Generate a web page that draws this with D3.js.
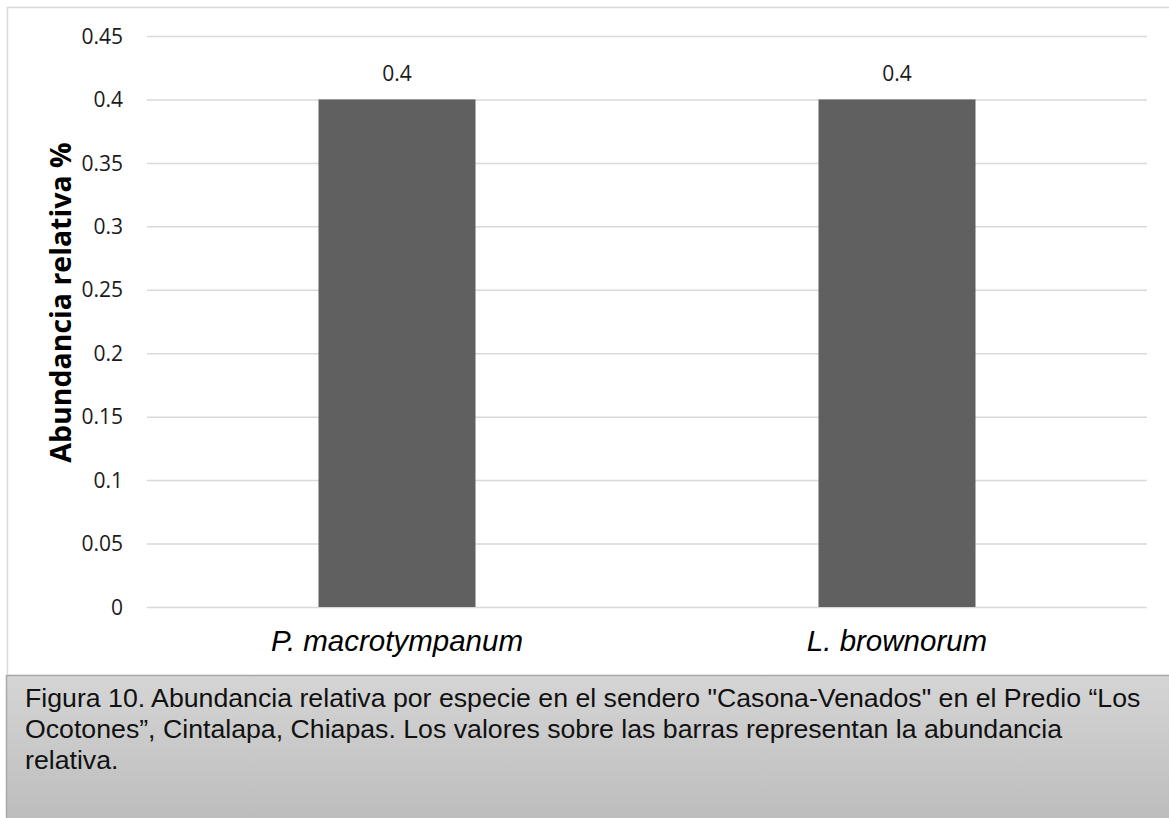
<!DOCTYPE html>
<html>
<head>
<meta charset="utf-8">
<script src="https://cdn.jsdelivr.net/npm/d3@7"></script>
<style>
  html, body { margin: 0; padding: 0; background: #ffffff; }
  svg { display: block; }
</style>
</head>
<body>
<svg id="chart" width="1169" height="818"></svg>
<script>
// Species and their relative abundance (%)
const categories = ["P. macrotympanum", "L. brownorum"];
const values = [0.4, 0.4];
const yTicks = [0, 0.05, 0.1, 0.15, 0.2, 0.25, 0.3, 0.35, 0.4, 0.45];
const yTitle = "Abundancia relativa %";
const captionLines = [
  "Figura 10. Abundancia relativa por especie en el sendero \"Casona-Venados\" en el Predio \u201cLos",
  "Ocotones\u201d, Cintalapa, Chiapas. Los valores sobre las barras representan la abundancia",
  "relativa."
];

const svg = d3.select("#chart");
const W = 1169, H = 818;

const plot = { left: 147, right: 1147, top: 36, bottom: 607 };
const barShare = 0.314; // bar width as a share of each category slot

// Frame around the chart area
svg.append("rect")
  .attr("x", 7.5).attr("y", 7.5)
  .attr("width", W + 10).attr("height", 668)
  .attr("fill", "#ffffff")
  .attr("stroke", "#d9d9d9").attr("stroke-width", 1.5);

const x = d3.scaleBand().domain(categories).range([plot.left, plot.right]).padding(0);
const y = d3.scaleLinear().domain([0, 0.45]).range([plot.bottom, plot.top]);

// Horizontal gridlines with tick labels
const yAxis = d3.axisLeft(y).tickValues(yTicks).tickSize(-(plot.right - plot.left)).tickPadding(24)
  .tickFormat(d => d3.format("")(+d.toFixed(2)));
const gy = svg.append("g").attr("transform", `translate(${plot.left},0)`).call(yAxis);
gy.select(".domain").remove();
gy.selectAll(".tick line").attr("stroke", "#d9d9d9").attr("stroke-width", 1.5);
gy.selectAll(".tick text")
  .attr("font-family", "'Open Sans', sans-serif")
  .attr("font-size", 21)
  .attr("fill", "#1a1a1a")
  .attr("dy", "0.34em");

// Bars
const bw = x.bandwidth() * barShare;
svg.append("g").selectAll("rect")
  .data(categories.map((c, i) => ({ c, v: values[i] })))
  .join("rect")
  .attr("x", d => x(d.c) + (x.bandwidth() - bw) / 2)
  .attr("y", d => y(d.v))
  .attr("width", bw)
  .attr("height", d => y(0) - y(d.v))
  .attr("fill", "#606060");

// Value labels above bars
svg.append("g").selectAll("text")
  .data(categories.map((c, i) => ({ c, v: values[i] })))
  .join("text")
  .attr("x", d => x(d.c) + x.bandwidth() / 2)
  .attr("y", d => y(d.v) - 18)
  .attr("text-anchor", "middle")
  .attr("font-family", "'Open Sans', sans-serif")
  .attr("font-size", 21)
  .attr("fill", "#1a1a1a")
  .text(d => d.v);

// Category labels
const xAxis = d3.axisBottom(x).tickSize(0).tickPadding(0);
const gx = svg.append("g").attr("transform", `translate(0,${plot.bottom})`).call(xAxis);
gx.select(".domain").remove();
gx.selectAll(".tick text")
  .attr("y", 44)
  .attr("dy", 0)
  .attr("font-family", "'Liberation Sans', Arial, sans-serif")
  .attr("font-style", "italic")
  .attr("font-size", 29.5)
  .attr("fill", "#000000");

// Y-axis title
svg.append("text")
  .attr("transform", `translate(71,302.5) rotate(-90)`)
  .attr("text-anchor", "middle")
  .attr("font-family", "'Open Sans', sans-serif")
  .attr("font-weight", "bold")
  .attr("font-size", 28.5)
  .attr("fill", "#000000")
  .text(yTitle);

// Caption box with a soft vertical gradient
const capTop = 675.5;
const defs = svg.append("defs");
const grad = defs.append("linearGradient").attr("id", "capGrad")
  .attr("x1", 0).attr("y1", 0).attr("x2", 0).attr("y2", 1);
grad.append("stop").attr("offset", "0%").attr("stop-color", "#d5d5d5");
grad.append("stop").attr("offset", "100%").attr("stop-color", "#bdbdbd");

svg.append("rect")
  .attr("x", 6.5).attr("y", capTop)
  .attr("width", W).attr("height", H - capTop + 1)
  .attr("fill", "url(#capGrad)")
  .attr("stroke", "#a9a9a9").attr("stroke-width", 1.5);

svg.append("g").selectAll("text")
  .data(captionLines)
  .join("text")
  .attr("x", 25)
  .attr("y", (d, i) => 707 + i * 31)
  .attr("font-family", "'Liberation Sans', Arial, sans-serif")
  .attr("font-size", 26.7)
  .attr("fill", "#111111")
  .text(d => d);
</script>
</body>
</html>
